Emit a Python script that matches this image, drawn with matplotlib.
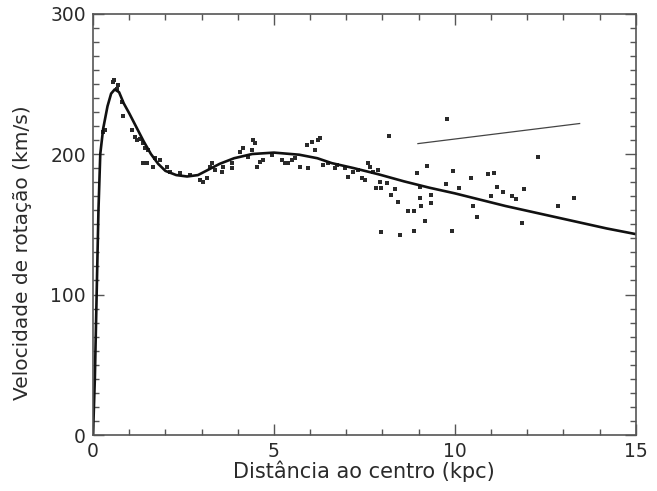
import matplotlib
matplotlib.use("Agg")
import matplotlib.pyplot as plt
from matplotlib.ticker import MultipleLocator

# curva de rotação (modelo)
curve_r = [0, 0.05, 0.1, 0.15, 0.2, 0.28, 0.4, 0.5, 0.6, 0.72, 0.85, 1.0, 1.2, 1.4,
           1.6, 1.8, 2.0, 2.3, 2.6, 2.9, 3.2, 3.5, 3.9, 4.4, 5.0, 5.7, 6.2, 6.6,
           7.2, 7.9, 8.6, 9.3, 10.0, 10.7, 11.4, 12.1, 12.8, 13.5, 14.2, 15.0]
curve_v = [0, 40, 100, 160, 200, 218, 234, 243, 246, 244, 236, 229, 219, 209,
           200, 193, 188, 185, 184, 185, 189, 193, 197, 200, 201, 199.5, 197, 193.5,
           190, 185.5, 180.5, 176, 172, 167.5, 163, 159, 155, 151, 147, 143]

# observações
obs_r = [0.58, 0.55, 0.69, 0.66, 0.80, 0.83, 1.08, 1.16, 1.22, 1.30, 1.38, 1.44,
         1.52, 1.38, 1.49, 1.71, 1.85, 1.66, 2.04, 2.13, 2.40, 2.68, 2.96, 3.04,
         3.15, 3.23, 3.37, 0.33, 0.28,
         3.29, 3.56, 3.59, 3.84, 3.84, 4.06, 4.14, 4.39, 4.42, 4.48, 4.28, 4.53,
         4.61, 4.70, 4.94, 5.22, 5.30, 5.39, 5.50, 5.58, 5.72, 5.94, 5.91, 6.05,
         6.13, 6.22, 6.27, 6.35, 6.49, 6.69, 6.74,
         6.96, 7.04, 7.18, 7.32, 7.43, 7.51, 7.60, 7.65, 7.73, 7.87, 7.93, 7.82,
         7.96, 8.12, 8.23, 8.34, 8.43, 8.70, 8.87, 9.03, 9.06, 9.03, 9.17, 9.34,
         9.34, 7.96, 8.48, 8.87, 9.92, 8.18, 9.78, 8.95, 9.23, 9.94, 9.75, 10.11,
         10.44, 10.91, 11.08, 11.16, 11.33, 11.57, 11.69, 11.91, 10.99, 10.50,
         10.61, 11.85, 12.29, 12.85, 13.29]
obs_v = [253.0, 250.9, 248.8, 246.6, 237.3, 227.4, 217.4, 212.4, 210.3, 211.0, 208.1, 204.6,
         203.1, 193.9, 193.9, 197.4, 196.0, 191.0, 191.0, 187.5, 186.7, 185.3, 181.8, 180.3,
         183.2, 191.0, 188.9, 217.4, 216.0,
         193.9, 187.5, 191.0, 190.3, 193.9, 201.7, 204.6, 203.1, 210.3, 208.1, 198.1, 191.0,
         194.6, 196.0, 199.6, 196.0, 193.9, 193.9, 196.0, 197.4, 191.0, 190.3, 206.7, 208.8,
         203.1, 210.3, 211.7, 192.4, 193.9, 190.3, 192.4,
         190.3, 183.9, 187.5, 188.9, 183.2, 181.8, 193.9, 191.0, 187.5, 188.9, 180.3, 176.1,
         176.1, 179.6, 171.1, 175.3, 166.1, 159.7, 159.7, 176.8, 163.2, 168.9, 152.5, 171.1,
         165.4, 144.7, 142.6, 145.4, 145.4, 213.1, 225.2, 186.7, 191.7, 188.2, 178.9, 176.1,
         183.2, 186.0, 186.7, 176.8, 173.2, 170.3, 168.2, 175.3, 170.3, 163.2,
         155.4, 151.1, 198.1, 163.2, 168.9]

# segmento fino no canto superior
seg_r = [8.98, 13.45]
seg_v = [207.4, 221.7]

ink = '#2a2a2a'
plt.rcParams['font.family'] = ['DejaVu Sans']

fig = plt.figure(figsize=(6.57, 4.91), dpi=100)
ax = fig.add_axes([0.1416, 0.114, 0.826, 0.8585])

ax.plot(obs_r, obs_v, 's', color=ink, markersize=2.8, markeredgewidth=0)
ax.plot(curve_r, curve_v, '-', color='#111111', linewidth=1.9)
ax.plot(seg_r, seg_v, '-', color='#444444', linewidth=0.9)

ax.set_xlim(0, 15)
ax.set_ylim(0, 300)
ax.xaxis.set_major_locator(MultipleLocator(5))
ax.xaxis.set_minor_locator(MultipleLocator(1))
ax.yaxis.set_major_locator(MultipleLocator(100))
ax.yaxis.set_minor_locator(MultipleLocator(10))

ax.tick_params(which='both', direction='in', top=True, right=True,
               colors='#555555', labelcolor=ink, labelsize=13.5, width=1.0)
ax.tick_params(which='major', length=8)
ax.tick_params(which='minor', length=4)
ax.tick_params(axis='x', pad=5)
ax.tick_params(axis='y', pad=5)
for s in ax.spines.values():
    s.set_color('#555555')
    s.set_linewidth(1.2)

ax.set_xlabel('Distância ao centro (kpc)', fontsize=15, color=ink, labelpad=0)
ax.set_ylabel('Velocidade de rotação (km/s)', fontsize=14.5, color=ink)
# no original o rótulo do eixo y fica um pouco abaixo do centro
ax.yaxis.set_label_coords(-0.112, 0.432)

fig.savefig('out.png', dpi=100)
